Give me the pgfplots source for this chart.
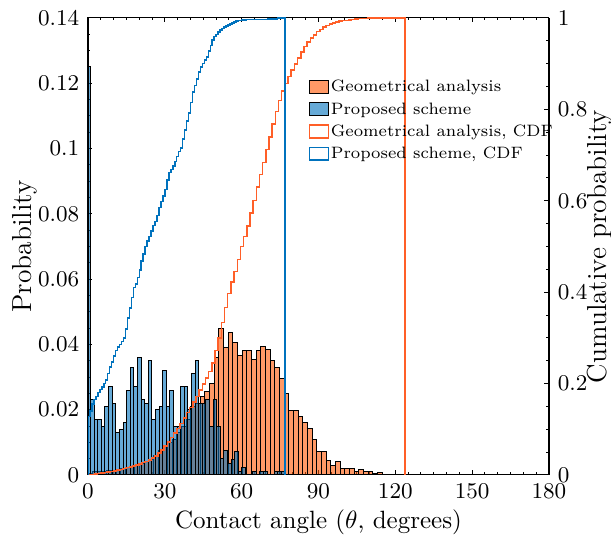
\documentclass[border=0pt]{standalone}
\usepackage{pgfplots}
\pgfplotsset{compat=1.18}
\usetikzlibrary{calc}
\definecolor{orfill}{RGB}{255,85,0}
\definecolor{blfill}{RGB}{0,114,189}
\definecolor{orline}{RGB}{255,95,40}
\definecolor{blline}{RGB}{0,114,189}
\pgfplotsset{common/.style={width=184.4pt,height=182.8pt,scale only axis,
  xmin=0,xmax=180, tick align=inside, major tick length=1.8pt, minor tick length=1pt,
  axis line style={line width=0.4pt}, tick style={line width=0.4pt,black},
  tick label style={font=\fontsize{9}{11}\selectfont},
  label style={font=\fontsize{11}{13}\selectfont}}}
\begin{document}
\begin{tikzpicture}
\begin{axis}[common, name=ax, ymin=0, ymax=0.14,
  ytick={0,0.02,0.04,0.06,0.08,0.1,0.12,0.14}, ytick pos=left,
  xtick={0,30,60,90,120,150,180}, minor x tick num=5, minor y tick num=3,
  scaled y ticks=false,
  yticklabel style={/pgf/number format/fixed,/pgf/number format/precision=2},
  xlabel={Contact angle ($\theta$, degrees)}, ylabel={Probability},
  xlabel style={at={(axis description cs:0.5,-0.103)}, anchor=center, font=\fontsize{10}{12}\selectfont},
  ylabel style={at={(axis description cs:-0.1367,0.5)}, anchor=center}]
% Geometrical analysis histogram (bin left edge, probability)
\addplot[ybar interval, fill=orfill, fill opacity=0.6, draw=black, line width=0.4pt] coordinates {
(0,0.0005) (1.823,0.001) (3.646,0.001) (5.469,0.0012) (7.292,0.0013) (9.115,0.0015)
(10.938,0.0018) (12.761,0.002) (14.584,0.0023) (16.407,0.0026) (18.23,0.003) (20.053,0.0036)
(21.876,0.0042) (23.699,0.0048) (25.522,0.006) (27.345,0.0075) (29.168,0.009) (30.991,0.010)
(32.814,0.011) (34.637,0.013) (36.46,0.015) (38.283,0.017) (40.106,0.021) (41.929,0.022)
(43.752,0.024) (45.575,0.0255) (47.398,0.028) (49.221,0.036) (51.044,0.045) (52.867,0.039)
(54.69,0.0435) (56.513,0.0405) (58.336,0.0365) (60.159,0.038) (61.982,0.038) (63.805,0.0355)
(65.628,0.038) (67.451,0.0395) (69.274,0.0385) (71.097,0.035) (72.92,0.033) (74.743,0.0295)
(76.566,0.025) (78.389,0.0198) (80.212,0.0198) (82.035,0.018) (83.858,0.016) (85.681,0.0143)
(87.504,0.011) (89.327,0.0072) (91.15,0.0072) (92.973,0.0045) (94.796,0.0028) (96.619,0.0042)
(98.442,0.0021) (100.265,0.0019) (102.088,0.0019) (103.911,0.001) (105.734,0.0017) (107.557,0.001)
(109.38,0.001) (111.203,0.0005) (113.026,0.0007) (114.849,0.0003) (116.672,0.0003) (118.495,0.0002)
(120.318,0.0001) (122.141,0.0001) (123.964,0.0001)};
% Proposed scheme histogram
\addplot[ybar interval, fill=blfill, fill opacity=0.6, draw=black, line width=0.4pt] coordinates {
(0,0.125) (1.0,0.023) (2.407,0.017) (3.815,0.017) (5.222,0.015) (6.63,0.021) (8.037,0.027)
(9.444,0.022) (10.852,0.013) (12.259,0.014) (13.667,0.016) (15.074,0.026) (16.481,0.033)
(17.889,0.027) (19.296,0.036) (20.704,0.023) (22.111,0.022) (23.519,0.035) (24.926,0.017)
(26.333,0.020) (27.741,0.021) (29.148,0.032) (30.556,0.021) (31.963,0.026) (33.37,0.015)
(34.778,0.015) (36.185,0.027) (37.593,0.027) (39.0,0.020) (40.407,0.031) (41.815,0.035)
(43.222,0.022) (44.63,0.022) (46.037,0.023) (47.444,0.015) (48.852,0.023) (50.259,0.015)
(51.667,0.005) (53.074,0.0075) (54.481,0.0035) (55.889,0.0046) (57.296,0.0071) (58.704,0.001)
(60.111,0.0024) (61.519,0) (62.926,0) (64.333,0.001) (65.741,0) (67.148,0.001)
(68.556,0.001) (69.963,0) (71.37,0) (72.778,0.001) (74.185,0.001) (75.593,0.001) (77.0,0.001)};
\end{axis}
\begin{axis}[common, ymin=0, ymax=1, hide x axis,
  ytick={0,0.2,0.4,0.6,0.8,1}, ytick pos=right, yticklabel pos=right, minor y tick num=3,
  ylabel={Cumulative probability},
  ylabel style={at={(axis description cs:1.1106,0.5)}, anchor=center, rotate=0},
  legend style={at={(0.478,0.868)}, anchor=north west, draw=none, fill=none,
    font=\fontsize{6.6}{7.6}\selectfont, inner sep=0pt, row sep=1.6pt,
    nodes={inner sep=0.6pt}},
  legend cell align=left,
  legend image code/.code={\draw[#1] (0pt,-2.1pt) rectangle (7.6pt,3.0pt);}]
\addlegendimage{fill=orfill!60!white, draw=black, line width=0.45pt}
\addlegendentry{Geometrical analysis}
\addlegendimage{fill=blfill!60!white, draw=black, line width=0.45pt}
\addlegendentry{Proposed scheme}
\addlegendimage{fill=white, draw=orline, line width=0.6pt}
\addlegendentry{Geometrical analysis, CDF}
\addlegendimage{fill=white, draw=blline, line width=0.6pt}
\addlegendentry{Proposed scheme, CDF}
% Geometrical analysis CDF
\addplot[const plot, draw=orline, line width=0.6pt, forget plot] coordinates {
(0,0) (0,0.001) (1.24,0.0015) (2.48,0.002) (3.72,0.003) (4.96,0.004) (6.20,0.005) (7.44,0.0065)
(8.68,0.008) (9.92,0.009) (11.16,0.011) (12.40,0.012) (13.64,0.014) (14.88,0.016) (16.12,0.018)
(17.36,0.020) (18.60,0.022) (19.84,0.024) (21.08,0.027) (22.32,0.030) (23.56,0.033) (24.80,0.037)
(26.04,0.042) (27.28,0.048) (28.52,0.055) (29.76,0.063) (31.00,0.072) (32.24,0.082) (33.48,0.092)
(34.72,0.102) (35.96,0.113) (37.20,0.125) (38.44,0.137) (39.68,0.148) (40.92,0.160) (42.16,0.172)
(43.40,0.186) (44.64,0.199) (45.88,0.212) (47.12,0.226) (48.36,0.245) (49.60,0.272) (50.84,0.300)
(52.08,0.334) (53.32,0.366) (54.56,0.397) (55.80,0.422) (57.04,0.445) (58.28,0.472) (59.52,0.500)
(60.76,0.522) (62.00,0.545) (63.24,0.573) (64.48,0.601) (65.72,0.630) (66.96,0.657) (68.20,0.684)
(69.44,0.712) (70.68,0.740) (71.92,0.768) (73.16,0.795) (74.40,0.819) (75.64,0.840) (76.88,0.857)
(78.12,0.872) (79.36,0.886) (80.60,0.899) (81.84,0.913) (83.08,0.926) (84.32,0.938) (85.56,0.948)
(86.80,0.956) (88.04,0.963) (89.28,0.970) (90.52,0.975) (91.76,0.980) (93.00,0.984) (94.24,0.987)
(95.48,0.989) (96.72,0.991) (97.96,0.993) (99.20,0.994) (100.44,0.995) (101.68,0.996) (102.92,0.997)
(104.16,0.998) (105.40,0.9985) (106.64,0.999) (109.12,0.9995) (111.60,1.0) (123.75,1.0) (123.75,0)};
% Proposed scheme CDF
\addplot[const plot, draw=blline, line width=0.6pt, forget plot] coordinates {
(0,0) (0,0.128) (0.77,0.140) (1.54,0.155) (2.31,0.165) (3.08,0.172) (3.85,0.180) (4.62,0.187)
(5.39,0.192) (6.16,0.200) (6.93,0.208) (7.70,0.222) (8.47,0.236) (9.24,0.247) (10.01,0.260)
(10.78,0.272) (11.55,0.280) (12.32,0.286) (13.09,0.292) (13.86,0.300) (14.63,0.320) (15.40,0.343)
(16.17,0.365) (16.94,0.388) (17.71,0.410) (18.48,0.418) (19.25,0.432) (20.02,0.449) (20.79,0.468)
(21.56,0.484) (22.33,0.500) (23.10,0.512) (23.87,0.522) (24.64,0.534) (25.41,0.546) (26.18,0.555)
(26.95,0.568) (27.72,0.585) (28.49,0.598) (29.26,0.610) (30.03,0.625) (30.80,0.645) (31.57,0.662)
(32.34,0.668) (33.11,0.676) (33.88,0.686) (34.65,0.697) (35.42,0.708) (36.19,0.716) (36.96,0.735)
(37.73,0.755) (38.50,0.775) (39.27,0.792) (40.04,0.815) (40.81,0.838) (41.58,0.852) (42.35,0.866)
(43.12,0.882) (43.89,0.893) (44.66,0.900) (45.43,0.908) (46.20,0.915) (46.97,0.928) (47.74,0.940)
(48.51,0.952) (49.28,0.960) (50.05,0.964) (50.82,0.969) (51.59,0.974) (52.36,0.977) (53.13,0.980)
(53.90,0.982) (54.67,0.985) (55.44,0.987) (56.21,0.989) (56.98,0.991) (57.75,0.993) (58.52,0.994)
(59.29,0.995) (60.06,0.996) (61.6,0.997) (66.2,0.997) (70.0,0.998) (74.0,1.0) (77,1.0) (77,0)};
\end{axis}
\pgfresetboundingbox
\path[use as bounding box] ($(ax.south west)+(-35.2pt,-26.4pt)$) rectangle ($(ax.north east)+(24.8pt,7.2pt)$);
\end{tikzpicture}
\end{document}
